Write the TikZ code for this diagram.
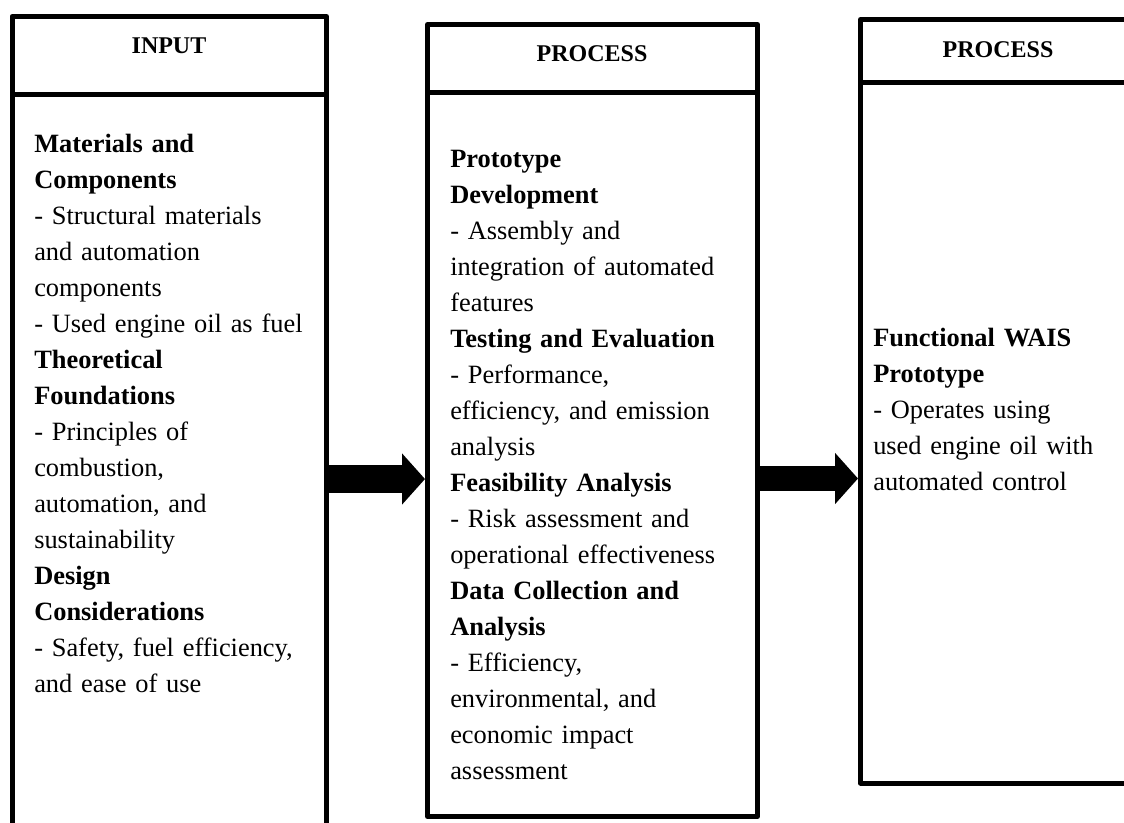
\documentclass[tikz,border=0pt]{standalone}
\usepackage{fontspec}
\setmainfont{Liberation Serif}
\usetikzlibrary{arrows.meta}
\begin{document}
\begin{tikzpicture}[x=0.75pt,y=-0.75pt,
  frame/.style={draw, line width=3.75pt, rectangle, inner sep=0pt, line join=round},
  head/.style={font=\fontsize{18}{22}\selectfont\bfseries, anchor=base, inner sep=0pt},
  body/.style={font=\fontsize{19.8}{27}\selectfont, anchor=base west, inner sep=0pt, align=left, text width=300pt},
  flow/.style={-{Triangle[length=17.25pt,width=37.5pt]}}
]
\useasboundingbox (0,0) rectangle (1124,822);
\clip (0,0) rectangle (1124,822);

% box 1
\node[frame, minimum width=235.875pt, minimum height=58.5pt] (h1) at (169.25,55.5) {};
\node[frame, minimum width=235.875pt, minimum height=551.625pt] (b1) at (169.25,462.25) {};
% box 2
\node[frame, minimum width=247.5pt, minimum height=51pt] (h2) at (592.5,58.5) {};
\node[frame, minimum width=247.5pt, minimum height=543pt] (b2) at (592.5,454.5) {};
% box 3
\node[frame, minimum width=209.625pt, minimum height=47.25pt] (h3) at (1000.25,51) {};
\node[frame, minimum width=209.625pt, minimum height=525.375pt] (b3) at (1000.25,432.75) {};

% headers
\node[head] (t1) at (169,53) {INPUT};
\node[head] (t2) at (592,61) {PROCESS};
\node[head] (t3) at (998,57) {PROCESS};

% body texts
\node[body] (c1) at (34,152) {\textbf{Materials and}\\
\textbf{Components}\\
- Structural materials\\
and automation\\
components\\
- Used engine oil as fuel\\
\textbf{Theoretical}\\
\textbf{Foundations}\\
- Principles of\\
combustion,\\
automation, and\\
sustainability\\
\textbf{Design}\\
\textbf{Considerations}\\
- Safety, fuel efficiency,\\
and ease of use};

\node[body] (c2) at (450,167) {\textbf{Prototype}\\
\textbf{Development}\\
- Assembly and\\
integration of automated\\
features\\
\textbf{Testing and Evaluation}\\
- Performance,\\
efficiency, and emission\\
analysis\\
\textbf{Feasibility Analysis}\\
- Risk assessment and\\
operational effectiveness\\
\textbf{Data Collection and}\\
\textbf{Analysis}\\
- Efficiency,\\
environmental, and\\
economic impact\\
assessment};

\node[body] (c3) at (873,346) {\textbf{Functional WAIS}\\
\textbf{Prototype}\\
- Operates using\\
used engine oil with\\
automated control};

% arrows
\coordinate (y1) at (0,479);
\coordinate (y2) at (0,478.5);
\draw[flow, line width=21pt] (b1.east |- y1) -- (b2.west |- y1);
\draw[flow, line width=18.75pt] (b2.east |- y2) -- (b3.west |- y2);
\end{tikzpicture}
\end{document}
